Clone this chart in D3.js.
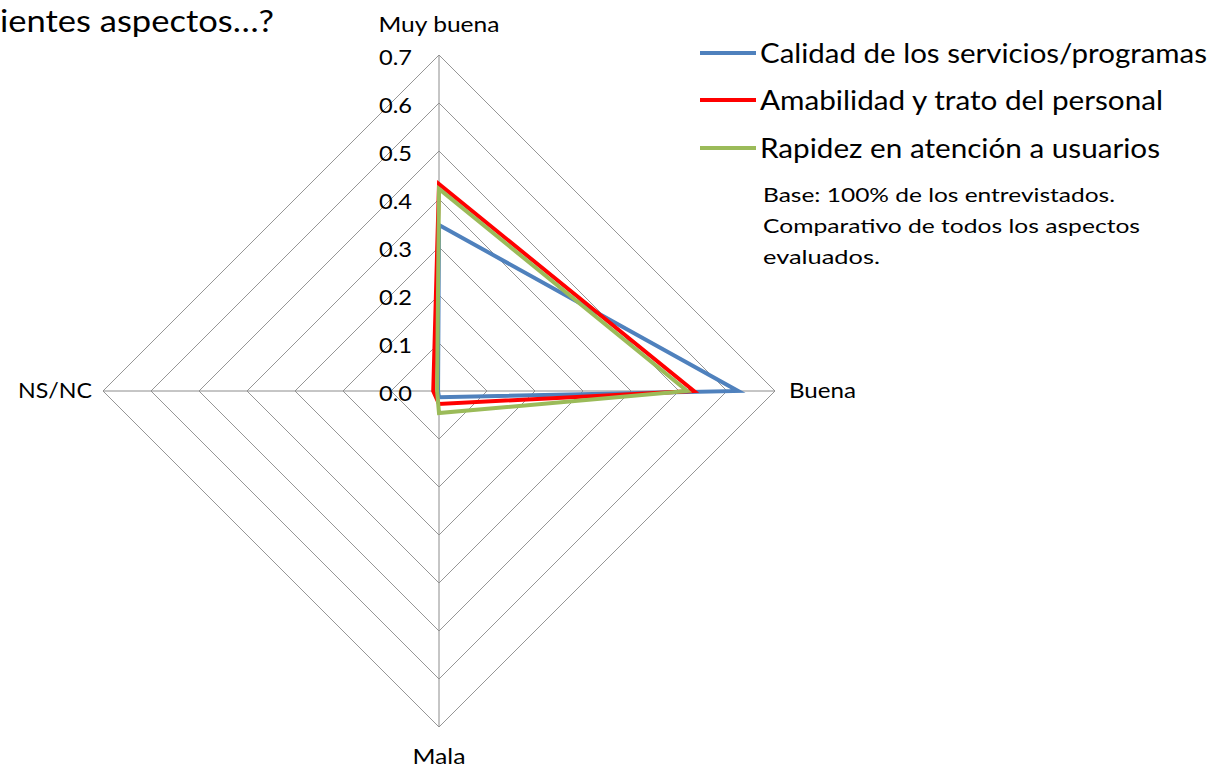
<!DOCTYPE html>
<html>
<head>
<meta charset="utf-8">
<script src="https://cdn.jsdelivr.net/npm/d3@7"></script>
<style>
  html, body { margin: 0; padding: 0; background: #fff; }
  svg { display: block; font-family: Lato, "Open Sans", "Liberation Sans", sans-serif; }
</style>
</head>
<body>
<svg id="chart" width="1213" height="768"></svg>
<script>
// Rating categories, clockwise from the top
const categories = ["Muy buena", "Buena", "Mala", "NS/NC"];
// Share of respondents per rating, one array per evaluated aspect
const calidad    = [0.346, 0.623, 0.013, 0.002];
const amabilidad = [0.431, 0.531, 0.027, 0.012];
const rapidez    = [0.421, 0.517, 0.046, 0.004];
const seriesNames = [
  "Calidad de los servicios/programas",
  "Amabilidad y trato del personal",
  "Rapidez en atención a usuarios"
];
const ticks = [0, 0.1, 0.2, 0.3, 0.4, 0.5, 0.6, 0.7];
const noteLines = [
  "Base: 100% de los entrevistados.",
  "Comparativo de todos los aspectos",
  "evaluados."
];

const series = [
  { name: seriesNames[0], values: calidad,    color: "#4F81BD" },
  { name: seriesNames[1], values: amabilidad, color: "#FF0000" },
  { name: seriesNames[2], values: rapidez,    color: "#9BBB59" }
];

const svg = d3.select("#chart");
const cx = 439, cy = 391;
const r = d3.scaleLinear().domain([0, 0.7]).range([0, 336]);
// Spread the categories evenly around the circle, first one at the top
const ang = d3.scaleLinear().domain([0, categories.length]).range([0, 2 * Math.PI]);
const pt = (c, v) => {
  const a = ang(categories.indexOf(c));
  return [cx + r(v) * Math.sin(a), cy - r(v) * Math.cos(a)];
};

// Title fragment
svg.append("text")
  .attr("x", 0).attr("y", 32)
  .attr("font-size", 30).attr("fill", "#000")
  .attr("textLength", 274).attr("lengthAdjust", "spacingAndGlyphs")
  .text("ientes aspectos…?");

// Grid rings
const g = svg.append("g");
ticks.filter(t => t > 0).forEach(t => {
  g.append("polygon")
    .attr("points", categories.map(c => pt(c, t).join(",")).join(" "))
    .attr("fill", "none").attr("stroke", "#969696").attr("stroke-width", 1);
});
// Spokes
categories.forEach(c => {
  const [x, y] = pt(c, 0.7);
  g.append("line").attr("x1", cx).attr("y1", cy).attr("x2", x).attr("y2", y)
    .attr("stroke", "#8c8c8c").attr("stroke-width", 1);
});

// Radial tick labels along the top spoke
ticks.forEach(t => {
  svg.append("text")
    .attr("x", 412).attr("y", cy - r(t) + 10)
    .attr("text-anchor", "end").attr("font-size", 21).attr("fill", "#000")
    .attr("textLength", 33).attr("lengthAdjust", "spacingAndGlyphs")
    .text(d3.format(".1f")(t));
});

// Category labels
const catPos = {
  "Muy buena": { x: cx, y: 32, anchor: "middle", w: 121 },
  "Buena":     { x: 789, y: 398, anchor: "start", w: 67 },
  "Mala":      { x: cx, y: 764, anchor: "middle", w: 53 },
  "NS/NC":     { x: 92, y: 398, anchor: "end", w: 74 }
};
categories.forEach(c => {
  svg.append("text")
    .attr("x", catPos[c].x).attr("y", catPos[c].y)
    .attr("text-anchor", catPos[c].anchor)
    .attr("font-size", 21).attr("fill", "#000")
    .attr("textLength", catPos[c].w).attr("lengthAdjust", "spacingAndGlyphs")
    .text(c);
});

// Series polygons
const line = d3.line().curve(d3.curveLinearClosed);
series.forEach(s => {
  svg.append("path")
    .attr("d", line(categories.map((c, i) => pt(c, s.values[i]))))
    .attr("fill", "none").attr("stroke", s.color)
    .attr("stroke-width", 4).attr("stroke-linejoin", "miter");
});

// Legend
const legendY = [53, 100, 148];
const legendW = [447, 403, 400];
series.forEach((s, i) => {
  svg.append("line")
    .attr("x1", 700).attr("x2", 756).attr("y1", legendY[i]).attr("y2", legendY[i])
    .attr("stroke", s.color).attr("stroke-width", 4);
  svg.append("text")
    .attr("x", 760).attr("y", legendY[i] + 10)
    .attr("font-size", 27).attr("fill", "#000")
    .attr("textLength", legendW[i]).attr("lengthAdjust", "spacingAndGlyphs")
    .text(s.name);
});

// Base note
const noteW = [352, 377, 117];
noteLines.forEach((t, i) => {
  svg.append("text")
    .attr("x", 763).attr("y", 202 + i * 31)
    .attr("font-size", 20).attr("fill", "#000")
    .attr("textLength", noteW[i]).attr("lengthAdjust", "spacingAndGlyphs")
    .text(t);
});
</script>
</body>
</html>
